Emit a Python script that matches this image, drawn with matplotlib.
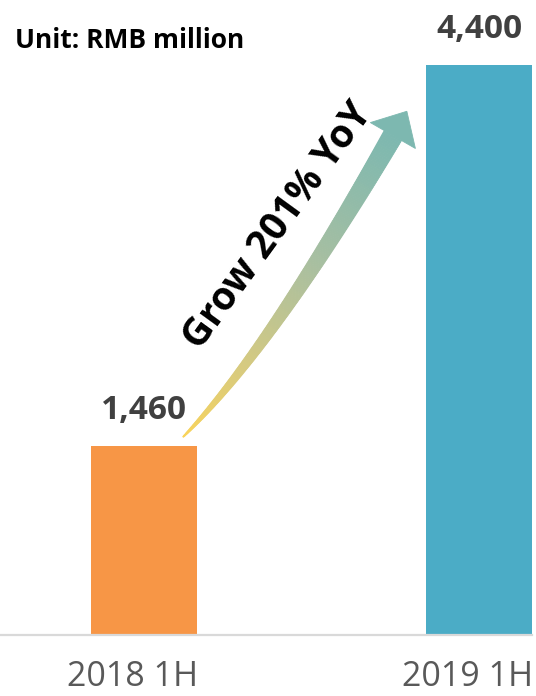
import numpy as np
import matplotlib
matplotlib.use("Agg")
import matplotlib.pyplot as plt
from matplotlib.patches import Polygon
from matplotlib.colors import LinearSegmentedColormap
from matplotlib.transforms import ScaledTranslation

plt.rcParams['font.family'] = ['Open Sans', 'DejaVu Sans']

# ---- data ----
categories = ["2018 1H", "2019 1H"]
values = [1460, 4400]
value_labels = ["1,460", "4,400"]
bar_colors = ["#F79646", "#4BACC6"]
unit_text = "Unit: RMB million"
growth_text = "Grow 201% YoY"

W, H = 536, 696
fig = plt.figure(figsize=(W / 100, H / 100), dpi=100)
ax = fig.add_axes([0, 61.5 / H, 532 / W, 569.5 / H])

x = np.arange(len(categories))
ax.bar(x, values, width=0.316, color=bar_colors, zorder=2)
ax.set_xlim(-0.429, 1.158)
ax.set_ylim(0, 4400)

for s in ["top", "right", "left"]:
    ax.spines[s].set_visible(False)
ax.spines["bottom"].set_color("#D9D9D9")
ax.spines["bottom"].set_linewidth(1.6)
ax.set_yticks([])
ax.set_xticks(x)
ax.set_xticklabels(categories, fontsize=24.5, color="#595959")
ax.tick_params(axis="x", length=0, pad=18.5)
off = ScaledTranslation(-11 / 100, 0, fig.dpi_scale_trans)
for lab in ax.get_xticklabels():
    lab.set_transform(lab.get_transform() + off)

for xi, v, lab in zip(x, values, value_labels):
    ax.annotate(lab, (xi, v), xytext=(0, 19.4), textcoords="offset points",
                ha="center", va="baseline", fontsize=24, fontweight="bold",
                color="#404040", annotation_clip=False)

fig.text(15 / W, (H - 48) / H, unit_text, fontsize=19, fontweight="bold",
         color="black", va="baseline", ha="left")

# ---- curved gradient arrow (annotation) ----
P0 = ax.transData.transform((0.117, 1526))
P1 = ax.transData.transform((0.373, 2190))
P2 = ax.transData.transform((0.743, 3855))
N = 240
t = np.linspace(0, 1, N)[:, None]
pts = (1 - t) ** 2 * P0 + 2 * (1 - t) * t * P1 + t ** 2 * P2
der = 2 * (1 - t) * (P1 - P0) + 2 * t * (P2 - P1)
der = der / np.linalg.norm(der, axis=1)[:, None]
nrm = np.column_stack([-der[:, 1], der[:, 0]])
hw = (1.0 + 19.0 * t[:, 0] ** 0.85) / 2
left = pts + nrm * hw[:, None]
right = pts - nrm * hw[:, None]
cmap = LinearSegmentedColormap.from_list("g", ["#FAD45A", "#D6CA80", "#A9BFA0", "#7DB8B0"])
for i in range(N - 1):
    c = cmap(t[i, 0])
    poly = Polygon([left[i], left[i + 1], right[i + 1], right[i]], closed=True,
                   facecolor=c, edgecolor=c, linewidth=0.6, transform=None, zorder=3)
    fig.add_artist(poly)
d = der[-1]
n = nrm[-1]
tip = P2 + d * 28
head = Polygon([P2 + n * 26, tip, P2 - n * 26], closed=True,
               facecolor=cmap(1.0), edgecolor=cmap(1.0), linewidth=0.6,
               transform=None, zorder=3)
fig.add_artist(head)

ax.text(0.40, 3160, growth_text, rotation=54, rotation_mode="anchor",
        ha="center", va="center", fontsize=28, fontweight="bold", color="black")

fig.savefig("out.png", dpi=100)
